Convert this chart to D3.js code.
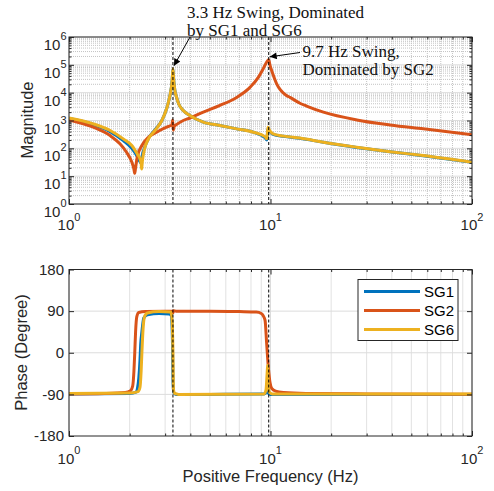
<!DOCTYPE html>
<html>
<head>
<meta charset="utf-8">
<script src="https://cdn.jsdelivr.net/npm/d3@7"></script>
<style>
  body { margin: 0; background: #fff; }
  svg { display: block; }
</style>
</head>
<body>
<div id="chart"></div>
<script>
// 數據 (從圖上讀出來的)
const seriesNames = ['SG1', 'SG2', 'SG6']
const seriesColors = ['#0072BD', '#D95319', '#EDB120']

// magnitude
const sg1MagF = [1, 1.32, 1.6, 1.86, 2.05, 2.18, 2.25, 2.27, 2.3, 2.36, 2.48, 2.67, 2.89, 3.05, 3.1, 3.17, 3.25, 3.28, 3.31, 3.35, 3.42, 3.5, 3.69, 3.98, 4.64, 5.61, 6.79, 8.22, 9.39, 9.6, 9.7, 9.87, 10.3, 11.6, 14, 18.3, 26.8, 39.2, 57.3, 100]
const sg1Mag = [1180, 720, 400, 190, 100, 52, 33, 30, 50, 95, 229, 457, 1000, 2630, 3980, 7940, 27500, 70000, 27500, 12600, 6760, 3980, 2290, 1510, 871, 661, 501, 380, 240, 200, 500, 417, 320, 270, 230, 164, 108, 75, 54, 31.6]

const sg2MagF = [1, 1.32, 1.6, 1.79, 1.93, 2.05, 2.1, 2.12, 2.14, 2.18, 2.3, 2.48, 2.72, 3.05, 3.2, 3.24, 3.27, 3.29, 3.33, 3.36, 3.69, 3.98, 4.64, 5.61, 6.79, 7.91, 8.7, 9.2, 9.57, 9.8, 9.95, 10.14, 10.73, 12, 12.5, 14, 15.1, 18.3, 26.8, 39.2, 57.3, 100]
const sg2Mag = [1050, 575, 288, 145, 72, 32, 18, 12.6, 20, 48, 126, 251, 380, 575, 660, 692, 1050, 447, 630, 660, 1000, 1230, 2000, 3470, 6760, 15500, 35500, 72400, 126000, 151000, 93300, 61700, 20900, 7940, 6760, 4170, 3310, 2000, 1050, 692, 501, 309]

const sg6MagF = [1, 1.32, 1.6, 1.86, 2.05, 2.18, 2.25, 2.28, 2.295, 2.31, 2.36, 2.48, 2.67, 2.89, 3.05, 3.1, 3.17, 3.25, 3.28, 3.31, 3.35, 3.42, 3.5, 3.69, 3.98, 4.64, 5.61, 6.79, 8.22, 9.39, 9.6, 9.7, 9.87, 10.3, 11.6, 14, 18.3, 26.8, 39.2, 57.3, 100]
const sg6Mag = [1230, 759, 437, 219, 126, 63, 42, 28, 18, 32, 83, 219, 437, 1000, 2630, 3980, 7940, 27500, 72000, 27500, 12600, 6760, 3980, 2290, 1510, 871, 661, 501, 380, 263, 219, 575, 457, 331, 275, 234, 166, 110, 76, 55, 31.6]

// phase
const sg1PhF = [1, 2, 2.15, 2.19, 2.22, 2.25, 2.27, 2.3, 2.32, 2.35, 2.45, 2.8, 3.15, 3.22, 3.26, 3.28, 3.31, 3.4, 5, 9.3, 9.55, 9.65, 9.75, 10, 100]
const sg1Ph = [-89, -88, -85, -75, -55, -17, 20, 45, 60, 75, 82, 85, 84, 80, 30, -60, -86, -90, -90, -89, -85, -80, -87, -90, -90]

const sg2PhF = [1, 1.5, 1.9, 2.02, 2.07, 2.1, 2.12, 2.14, 2.17, 2.22, 2.4, 3.0, 3.26, 3.28, 3.3, 3.4, 5, 7, 8.5, 9.0, 9.2, 9.4, 9.57, 9.75, 9.95, 10.14, 10.6, 11.6, 15, 30, 100]
const sg2Ph = [-89, -88, -86, -82, -72, -40, 0, 45, 78, 87, 89, 90, 90, 86, 91, 90, 90, 89, 88, 85, 80, 70, 20, -30, -65, -77, -83, -86, -88, -89, -90]

const sg6PhF = [1, 2, 2.2, 2.25, 2.28, 2.3, 2.33, 2.37, 2.45, 2.8, 3.2, 3.25, 3.28, 3.3, 3.35, 3.5, 9.3, 9.5, 9.62, 9.68, 9.74, 9.85, 10.2, 100]
const sg6Ph = [-88, -87, -84, -75, -40, 0, 50, 78, 86, 89, 88, 70, 0, -80, -88, -90, -89, -80, -45, -27, -60, -85, -89, -89]

const magData = [[sg1MagF, sg1Mag], [sg2MagF, sg2Mag], [sg6MagF, sg6Mag]]
const phData = [[sg1PhF, sg1Ph], [sg2PhF, sg2Ph], [sg6PhF, sg6Ph]]

// 刻度
const freqMajor = [1, 10, 100]
const magMajor = [1, 10, 100, 1000, 10000, 100000, 1000000]
const phTicks = [-180, -90, 0, 90, 180]
const phGrid = [-90, 0, 90]
const swingFreqs = [3.28, 9.8]

drawChart()

function drawChart(){
        const width = 494, height = 491
        const left = 69, right = 472
        const magTop = 37, magBottom = 204
        const phTop = 269.5, phBottom = 436
        const sans = '"Liberation Sans", Arial, Helvetica, sans-serif'
        const serif = '"Liberation Serif", "Times New Roman", serif'

        const svg = d3.select('#chart')
                        .append('svg')
                        .attr('width', width)
                        .attr('height', height)
                        .style('font-family', sans)

        const x = d3.scaleLog().domain([1, 100]).range([left, right])
        const yMag = d3.scaleLog().domain([1, 1e6]).range([magBottom, magTop])
        const yPh = d3.scaleLinear().domain([-180, 180]).range([phBottom, phTop])

        const freqMinor = x.ticks().filter(d => !freqMajor.includes(d))
        const magMinor = yMag.ticks().filter(d => !magMajor.some(m => Math.abs(m - d) < 1e-9))

        const defs = svg.append('defs')
        defs.append('clipPath').attr('id', 'clipMag')
                .append('rect').attr('x', left).attr('y', magTop)
                .attr('width', right - left).attr('height', magBottom - magTop)
        defs.append('clipPath').attr('id', 'clipPh')
                .append('rect').attr('x', left).attr('y', phTop)
                .attr('width', right - left).attr('height', phBottom - phTop)
        defs.append('marker')
                .attr('id', 'arrow')
                .attr('viewBox', '0 0 10 10')
                .attr('refX', 10).attr('refY', 5)
                .attr('markerWidth', 9).attr('markerHeight', 7)
                .attr('markerUnits', 'userSpaceOnUse')
                .attr('orient', 'auto')
                .append('path').attr('d', 'M0,0 L10,5 L0,10 Z').attr('fill', '#000')

        const minorColor = '#c4c4c4', majorColor = '#dcdcdc'

        // ---------- magnitude 圖 ----------
        const g1 = svg.append('g')
        // 次要格線
        g1.selectAll('.vminor').data(freqMinor).join('line')
                .attr('x1', d => x(d)).attr('x2', d => x(d))
                .attr('y1', magTop).attr('y2', magBottom)
                .attr('stroke', minorColor).attr('stroke-dasharray', '1,1')
        g1.selectAll('.hminor').data(magMinor).join('line')
                .attr('y1', d => yMag(d)).attr('y2', d => yMag(d))
                .attr('x1', left).attr('x2', right)
                .attr('stroke', minorColor).attr('stroke-dasharray', '1,1')
        g1.selectAll('.vmajor').data(freqMajor).join('line')
                .attr('x1', d => x(d)).attr('x2', d => x(d))
                .attr('y1', magTop).attr('y2', magBottom)
                .attr('stroke', majorColor)
        g1.selectAll('.hmajor').data(magMajor).join('line')
                .attr('y1', d => yMag(d)).attr('y2', d => yMag(d))
                .attr('x1', left).attr('x2', right)
                .attr('stroke', majorColor)

        const magLine = d3.line()
                .x(d => x(d[0]))
                .y(d => yMag(d[1]))
                .curve(d3.curveMonotoneX)
        g1.append('g').attr('clip-path', 'url(#clipMag)')
                .selectAll('path').data(magData).join('path')
                .attr('fill', 'none')
                .attr('stroke', (d, i) => seriesColors[i])
                .attr('stroke-width', 3)
                .attr('stroke-linejoin', 'round')
                .attr('d', d => magLine(d[0].map((f, i) => [f, d[1][i]])))

        g1.selectAll('.swing').data(swingFreqs).join('line')
                .attr('x1', d => x(d)).attr('x2', d => x(d))
                .attr('y1', magTop).attr('y2', magBottom)
                .attr('stroke', '#000').attr('stroke-width', 1)
                .attr('stroke-dasharray', '3,2')

        drawBox(g1, yMag, magTop, magBottom, magMajor, magMinor)

        // y 軸標籤 10^n
        const magLab = g1.selectAll('.ylab').data(magMajor).join('text')
                .attr('x', left - 2.5)
                .attr('y', d => yMag(d) + 13)
                .attr('text-anchor', 'end')
                .attr('font-size', 15)
                .attr('fill', '#262626')
        magLab.append('tspan').text('10')
        magLab.append('tspan').attr('dy', -10).attr('font-size', 11).text(d => Math.round(Math.log10(d)))

        xLabels(g1, magBottom + 26)

        svg.append('text')
                .attr('transform', `translate(27.5,120) rotate(-90)`)
                .attr('dy', '0.35em')
                .attr('text-anchor', 'middle')
                .attr('font-size', 16.5)
                .attr('fill', '#262626')
                .text('Magnitude')

        // 標註
        const ann = [
                {f: 3.28, m: 72000, tx: 190, ty: 37, lx: 187, ly: 18, lines: ['3.3 Hz Swing, Dominated', 'by SG1 and SG6']},
                {f: 9.8, m: 151000, tx: 300, ty: 52.5, lx: 302.5, ly: 57, lines: ['9.7 Hz Swing,', 'Dominated by SG2']}
        ]
        ann.forEach(a => {
                svg.append('line')
                        .attr('x1', a.tx).attr('y1', a.ty)
                        .attr('x2', x(a.f) + 1).attr('y2', yMag(a.m) - 3)
                        .attr('stroke', '#000').attr('stroke-width', 1)
                        .attr('marker-end', 'url(#arrow)')
                const t = svg.append('text')
                        .attr('font-family', serif)
                        .attr('font-size', 17)
                        .attr('fill', '#111')
                t.selectAll('tspan').data(a.lines).join('tspan')
                        .attr('x', a.lx)
                        .attr('y', (d, i) => a.ly + i * 18)
                        .text(d => d)
        })

        // ---------- phase 圖 ----------
        const g2 = svg.append('g')
        g2.selectAll('.vminor').data(freqMinor).join('line')
                .attr('x1', d => x(d)).attr('x2', d => x(d))
                .attr('y1', phTop).attr('y2', phBottom)
                .attr('stroke', minorColor).attr('stroke-dasharray', '1,1')
        g2.selectAll('.vmajor').data(freqMajor).join('line')
                .attr('x1', d => x(d)).attr('x2', d => x(d))
                .attr('y1', phTop).attr('y2', phBottom)
                .attr('stroke', majorColor)
        g2.selectAll('.hmajor').data(phGrid).join('line')
                .attr('y1', d => yPh(d)).attr('y2', d => yPh(d))
                .attr('x1', left).attr('x2', right)
                .attr('stroke', majorColor)

        const phLine = d3.line()
                .x(d => x(d[0]))
                .y(d => yPh(d[1]))
                .curve(d3.curveMonotoneX)
        g2.append('g').attr('clip-path', 'url(#clipPh)')
                .selectAll('path').data(phData).join('path')
                .attr('fill', 'none')
                .attr('stroke', (d, i) => seriesColors[i])
                .attr('stroke-width', 3)
                .attr('stroke-linejoin', 'round')
                .attr('d', d => phLine(d[0].map((f, i) => [f, d[1][i]])))

        g2.selectAll('.swing').data(swingFreqs).join('line')
                .attr('x1', d => x(d)).attr('x2', d => x(d))
                .attr('y1', phTop).attr('y2', phBottom)
                .attr('stroke', '#000').attr('stroke-width', 1)
                .attr('stroke-dasharray', '3,2')

        drawBox(g2, yPh, phTop, phBottom, phTicks, [])

        g2.selectAll('.ylab').data(phTicks).join('text')
                .attr('x', left - 5)
                .attr('y', d => yPh(d))
                .attr('dy', '0.35em')
                .attr('text-anchor', 'end')
                .attr('font-size', 15)
                .attr('fill', '#262626')
                .text(d => d)

        xLabels(g2, phBottom + 27.5)

        svg.append('text')
                .attr('transform', `translate(21,352.5) rotate(-90)`)
                .attr('dy', '0.35em')
                .attr('text-anchor', 'middle')
                .attr('font-size', 16.5)
                .attr('fill', '#262626')
                .text('Phase (Degree)')

        svg.append('text')
                .attr('x', (left + right) / 2)
                .attr('y', 482)
                .attr('text-anchor', 'middle')
                .attr('font-size', 16.5)
                .attr('fill', '#262626')
                .text('Positive Frequency (Hz)')

        // 圖例
        const lg = svg.append('g').attr('transform', 'translate(358,279.5)')
        lg.append('rect').attr('width', 100).attr('height', 61)
                .attr('fill', '#fff').attr('stroke', '#262626').attr('stroke-width', 1)
        const items = lg.selectAll('.item').data(seriesNames).join('g')
                .attr('transform', (d, i) => `translate(0,${12 + i * 19})`)
        items.append('line')
                .attr('x1', 6).attr('x2', 62)
                .attr('stroke', (d, i) => seriesColors[i])
                .attr('stroke-width', 3)
        items.append('text')
                .attr('x', 66).attr('dy', '0.35em')
                .attr('font-size', 15)
                .attr('fill', '#000')
                .text(d => d)

        // 外框與刻度 (向內)
        function drawBox(g, yScale, top, bottom, yMajor, yMinor){
                const axes = [
                        [d3.axisBottom(x), `translate(0,${bottom})`, freqMajor, 5],
                        [d3.axisBottom(x), `translate(0,${bottom})`, freqMinor, 2.5],
                        [d3.axisTop(x), `translate(0,${top})`, freqMajor, 5],
                        [d3.axisTop(x), `translate(0,${top})`, freqMinor, 2.5],
                        [d3.axisLeft(yScale), `translate(${left},0)`, yMajor, 5],
                        [d3.axisLeft(yScale), `translate(${left},0)`, yMinor, 2.5],
                        [d3.axisRight(yScale), `translate(${right},0)`, yMajor, 5],
                        [d3.axisRight(yScale), `translate(${right},0)`, yMinor, 2.5]
                ]
                axes.forEach(([ax, tr, vals, len]) => {
                        const a = g.append('g')
                                .attr('transform', tr)
                                .call(ax.tickValues(vals).tickSize(-len).tickFormat(''))
                        a.select('.domain').remove()
                        a.selectAll('line').attr('stroke', '#262626')
                })
                g.append('rect')
                        .attr('x', left).attr('y', top)
                        .attr('width', right - left).attr('height', bottom - top)
                        .attr('fill', 'none').attr('stroke', '#262626').attr('stroke-width', 1)
        }

        function xLabels(g, base){
                const t = g.selectAll('.xlab').data(freqMajor).join('text')
                        .attr('x', d => x(d))
                        .attr('y', base)
                        .attr('text-anchor', 'middle')
                        .attr('font-size', 15)
                        .attr('fill', '#262626')
                t.append('tspan').text('10')
                t.append('tspan').attr('dy', -9.5).attr('font-size', 11).text(d => Math.round(Math.log10(d)))
        }
}
</script>
</body>
</html>
